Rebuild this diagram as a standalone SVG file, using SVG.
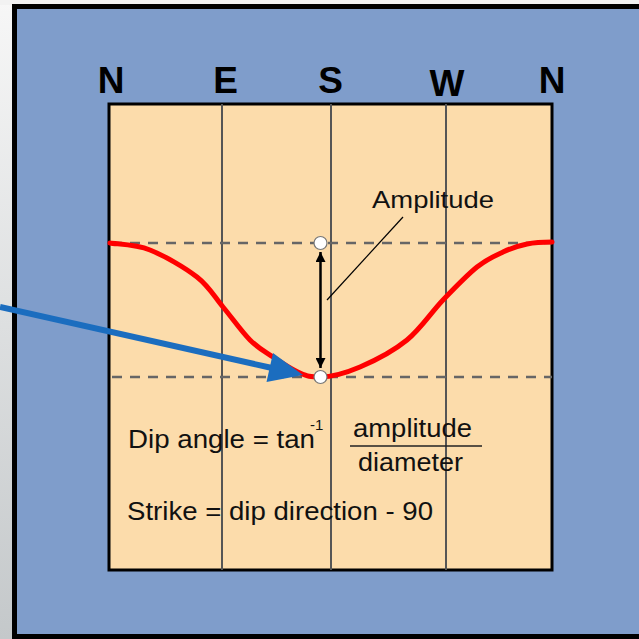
<svg xmlns="http://www.w3.org/2000/svg" width="639" height="639" viewBox="0 0 639 639">
<defs>
<linearGradient id="bg" x1="0" y1="0" x2="0" y2="1">
<stop offset="0" stop-color="#f7f7f7"/>
<stop offset="1" stop-color="#c4c8ca"/>
</linearGradient>
<marker id="bh" viewBox="0 0 10 10" refX="10" refY="5" markerWidth="4" markerHeight="4" orient="auto-start-reverse" markerUnits="strokeWidth">
<path d="M0,0 L10,5 L0,10 Z" fill="#000"/>
</marker>
<style>
.t{font-family:"Liberation Sans",Arial,sans-serif;fill:#111;}
.h{font-family:"Liberation Sans",Arial,sans-serif;font-weight:bold;font-size:37px;fill:#000;text-anchor:middle;}
.grid{stroke:#555;stroke-width:2;}
.dash{stroke:#666;stroke-width:2.5;stroke-dasharray:10 8;fill:none;}
.pt{fill:#fff;stroke:#777;stroke-width:1.2;}
</style>
</defs>
<rect x="0" y="0" width="639" height="639" fill="url(#bg)"/>
<rect x="0" y="0" width="639" height="5" fill="#f2f2f2"/>
<g id="panel">
<rect x="14.5" y="6.5" width="640" height="630" fill="#7f9dcb" stroke="#000" stroke-width="5"/>
</g>
<g id="headings">
<text class="h" x="111" y="93">N</text>
<text class="h" x="225.5" y="93">E</text>
<text class="h" x="330.5" y="93">S</text>
<text class="h" x="447" y="96">W</text>
<text class="h" x="552" y="93">N</text>
</g>
<g id="chart">
<rect x="109" y="104" width="443" height="466" fill="#fcdcab" stroke="#000" stroke-width="3"/>
<line class="grid" x1="222" y1="104" x2="222" y2="570"/>
<line class="grid" x1="331" y1="104" x2="331" y2="570"/>
<line class="grid" x1="446" y1="104" x2="446" y2="570"/>
<line class="dash" x1="112" y1="243" x2="552" y2="243"/>
<line class="dash" x1="112" y1="377" x2="552" y2="377"/>
<path d="M110,243 C116.7,244.2 135.5,244.3 150,250 C164.5,255.7 184.8,267.5 197,277 C209.2,286.5 214.2,296.5 223,307 C231.8,317.5 241.7,331.7 250,340 C258.3,348.3 264.7,351.5 273,357 C281.3,362.5 292.2,369.7 300,373 C307.8,376.3 310,377 320,377 C330,377 345.5,373.2 360,367 C374.5,360.8 393.2,351.2 407,340 C420.8,328.8 431.3,312.2 443,300 C454.7,287.8 467,275 477,267 C487,259 494.7,255.8 503,252 C511.3,248.2 518.8,245.7 527,244 C535.2,242.3 547.8,242 552,242" fill="none" stroke="#ff0000" stroke-width="5" stroke-linecap="round"/>
</g>
<g id="connectors">
<line x1="320.5" y1="252" x2="320.5" y2="368" stroke="#000" stroke-width="2.5" marker-start="url(#bh)" marker-end="url(#bh)"/>
<line x1="403" y1="217" x2="327" y2="300" stroke="#000" stroke-width="1.2"/>
<line x1="0" y1="307" x2="272" y2="368" stroke="#1b6dbf" stroke-width="6"/>
<polygon points="303,375 273,353 266.5,382" fill="#1b6dbf"/>
</g>
<g id="points">
<circle class="pt" cx="320.5" cy="243" r="6.5"/>
<circle class="pt" cx="320.5" cy="377" r="6.5"/>
</g>
<g id="labels">
<text class="t" x="372" y="208" font-size="24" textLength="122" lengthAdjust="spacingAndGlyphs">Amplitude</text>
<text class="t" x="128" y="448" font-size="25" textLength="187" lengthAdjust="spacingAndGlyphs">Dip angle = tan</text>
<text class="t" x="310" y="430" font-size="15">-1</text>
<text class="t" x="353" y="437" font-size="25" textLength="119" lengthAdjust="spacingAndGlyphs">amplitude</text>
<line x1="350" y1="446" x2="482" y2="446" stroke="#222" stroke-width="1.5"/>
<text class="t" x="358" y="471" font-size="25" textLength="105" lengthAdjust="spacingAndGlyphs">diameter</text>
<text class="t" x="127" y="520" font-size="25" textLength="306" lengthAdjust="spacingAndGlyphs">Strike = dip direction - 90</text>
</g>
</svg>
